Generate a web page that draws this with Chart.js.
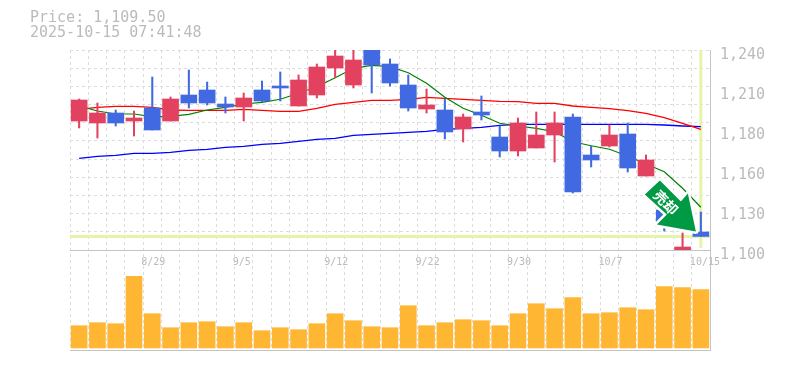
<!DOCTYPE html>
<html>
<head>
<meta charset="utf-8">
<script src="https://cdn.jsdelivr.net/npm/chart.js@4"></script>
<style>
  html, body { margin: 0; padding: 0; background: #fff; }
  canvas { display: block; }
</style>
</head>
<body>
<canvas id="priceChart" width="785" height="370"></canvas>
<script>
const dates = ["8/25","8/26","8/27","8/28","8/29","9/1","9/2","9/3","9/4","9/5","9/8","9/9","9/10","9/11","9/12","9/16","9/17","9/18","9/19","9/22","9/24","9/25","9/26","9/29","9/30","10/1","10/2","10/3","10/6","10/7","10/8","10/9","10/10","10/14","10/15"];
const dateTicks = ["8/29","9/5","9/12","9/22","9/30","10/7","10/15"];

const opens  = [1190.3,1188.9,1195.9,1190.3,1199.4,1190.3,1208.5,1212,1202.2,1200.1,1212,1214.8,1200.8,1208.5,1227.4,1215.5,1243,1230.2,1215.5,1198.7,1198,1184.7,1196.6,1179.1,1169.3,1171.4,1180.5,1193.1,1166.5,1172.8,1181.2,1151.8,1128,1100,1112.6];
const highs  = [1205.7,1202.9,1198,1197.3,1221.1,1207.1,1226,1217.6,1207.1,1209.9,1218.3,1224.6,1222.5,1230.2,1243,1242,1245,1233.7,1222.5,1212.7,1205.7,1195.2,1207.8,1186.8,1192.4,1196.6,1196.6,1195.2,1172.8,1187.5,1188.9,1166.5,1133,1111.9,1126.6];
const lows   = [1185.4,1178.4,1186.8,1179.8,1184,1190.3,1199.4,1201.5,1195.9,1190.3,1203.6,1204.3,1200.8,1206.4,1220.4,1213.4,1209.9,1214.8,1197.3,1195.9,1177.7,1175.6,1191,1165.1,1165.8,1171.4,1161.6,1139.9,1158.1,1172.1,1154.6,1151.8,1113.3,1100,1109.5];
const closes = [1205,1195.9,1188.9,1192.4,1184,1205.7,1202.9,1202.9,1200.1,1206.4,1204.3,1213.4,1219,1228.1,1235.8,1233,1229.5,1216.9,1199.4,1201.5,1182.6,1193.1,1194.5,1169.3,1188.9,1180.5,1188.9,1140.6,1163,1180.5,1157.4,1163,1119.6,1102.1,1109.5];

const maShort = [1200.8,1197.3,1195.2,1195.2,1193.3,1193.6,1195,1198,1199.9,1202.2,1203.4,1205.5,1209.7,1214.3,1220.6,1227.2,1229.3,1228.3,1224.1,1216.7,1206.9,1199.2,1194.3,1188.7,1186.8,1185.2,1182.8,1175.8,1173,1170.5,1165.8,1160.2,1154.8,1143.2,1129.9];
const maMid   = [1198.5,1199.9,1200.6,1200.6,1199.9,1198,1197.8,1197.8,1197.8,1198.5,1197.8,1197.1,1197.1,1199.2,1202,1203.4,1204.8,1204.8,1205.5,1206.9,1206.2,1205.5,1204.8,1204.1,1203.8,1202.7,1202.7,1200.8,1199.9,1198.9,1197.5,1195.7,1192.6,1188.7,1184.5];
const maLong  = [1164.2,1165.6,1166.3,1167.7,1167.7,1168.4,1169.8,1170.5,1171.9,1172.6,1174,1174.7,1176.1,1177.5,1178.2,1180.3,1181,1181.7,1182.4,1183.1,1184.5,1185.2,1185.9,1187.3,1188,1188,1188,1188,1188,1188,1188,1188,1187.5,1186.8,1186.3];

const volumes = [22.3,25.3,24.3,71.7,34.3,20.3,25.3,26.3,21.3,25.3,17.3,20.3,18.3,24.3,34.3,27.3,21.3,20.3,42.3,22.3,25.3,28.3,27.3,22.3,34.3,44.3,39.3,50.3,34.3,35.3,40.3,38.3,61.3,60.3,58.3];

const priceTicks = [1240,1212,1184,1156,1128,1100];
const priceTickLabels = ["1,240","1,210","1,180","1,160","1,130","1,100"];
const gridLineCount = 12;

const lastPrice = 1109.5;
const headerLines = ["Price: 1,109.50","2025-10-15 07:41:48"];
const signalLabel = "売却";

const upColor = "#e2425f";
const downColor = "#4169e1";
const textColor = "#bbbbbb";
const gridColor = "#dddddd";
const frameColor = "#c4c4c4";
const crossColor = "#e4f5aa";
const monoFont = "'DejaVu Sans Mono', monospace";

function candleColor(ctx) {
  const i = ctx.dataIndex;
  return closes[i] >= opens[i] ? upColor : downColor;
}

function maDataset(label, data, color, width) {
  return {
    type: "line",
    label: label,
    data: data,
    yAxisID: "price",
    borderColor: color,
    borderWidth: width,
    pointRadius: 0,
    tension: 0,
    order: 3
  };
}

// last price cross goes under the candles
const crossPlugin = {
  id: "cross",
  beforeDatasetsDraw(chart) {
    const { ctx, chartArea, scales } = chart;
    const x = scales.x.getPixelForValue(dates.length - 1);
    const y = scales.price.getPixelForValue(lastPrice);
    ctx.save();
    ctx.strokeStyle = crossColor;
    ctx.lineWidth = 3;
    ctx.beginPath();
    ctx.moveTo(chartArea.left, y);
    ctx.lineTo(chartArea.right, y);
    ctx.moveTo(x, scales.price.top);
    ctx.lineTo(x, scales.price.bottom - 2);
    ctx.stroke();
    ctx.restore();
  }
};

const overlayPlugin = {
  id: "overlay",
  afterDraw(chart) {
    const { ctx, scales } = chart;
    ctx.save();

    ctx.fillStyle = textColor;
    ctx.font = "15px " + monoFont;
    ctx.textBaseline = "middle";
    ctx.textAlign = "left";
    ctx.fillText(headerLines[0], 30, 18);
    ctx.fillText(headerLines[1], 30, 33);

    // signal arrow, tip sits just left of the last candle
    const tipX = scales.x.getPixelForValue(dates.length - 1) - 5;
    const tipY = scales.price.getPixelForValue(lastPrice) - 5;
    const arrow = [[-36,-51],[-15,-30],[-8,-38],[0,0],[-39,-7],[-29,-17],[-51,-37]];
    ctx.beginPath();
    arrow.forEach((p, i) => {
      if (i === 0) ctx.moveTo(tipX + p[0], tipY + p[1]);
      else ctx.lineTo(tipX + p[0], tipY + p[1]);
    });
    ctx.closePath();
    ctx.strokeStyle = "#ffffff";
    ctx.lineWidth = 5;
    ctx.lineJoin = "round";
    ctx.stroke();
    ctx.fillStyle = "#009944";
    ctx.fill();

    ctx.translate(tipX - 30, tipY - 29);
    ctx.rotate(Math.PI / 4);
    ctx.fillStyle = "#ffffff";
    ctx.font = "bold 14px 'Noto Sans CJK JP'";
    ctx.textAlign = "center";
    ctx.fillText(signalLabel, 0, 0);
    ctx.restore();
  }
};

new Chart(document.getElementById("priceChart"), {
  data: {
    labels: dates,
    datasets: [
      maDataset("MA short", maShort, "#008000", 1.2),
      maDataset("MA mid", maMid, "#ff0000", 1.3),
      maDataset("MA long", maLong, "#0000ff", 1.3),
      {
        type: "bar",
        label: "Wick",
        data: dates.map((d, i) => [lows[i], highs[i]]),
        yAxisID: "price",
        backgroundColor: candleColor,
        barThickness: 1.4,
        grouped: false,
        order: 2
      },
      {
        type: "bar",
        label: "Body",
        data: dates.map((d, i) => [Math.min(opens[i], closes[i]), Math.max(opens[i], closes[i])]),
        yAxisID: "price",
        backgroundColor: candleColor,
        barThickness: 16,
        grouped: false,
        order: 1
      },
      {
        type: "bar",
        label: "Volume",
        data: volumes,
        yAxisID: "volume",
        backgroundColor: "#ffb733",
        barThickness: 16,
        grouped: false,
        order: 4
      }
    ]
  },
  options: {
    responsive: false,
    animation: false,
    layout: { padding: { left: 70, top: 50, right: 0, bottom: 20 } },
    plugins: {
      legend: { display: false },
      tooltip: { enabled: false }
    },
    scales: {
      x: {
        type: "category",
        position: { price: 1100 },
        offset: true,
        grid: { color: gridColor, offset: true, drawTicks: false },
        border: { color: frameColor, dash: [3, 3] },
        ticks: {
          color: textColor,
          font: { family: monoFont, size: 10 },
          autoSkip: false,
          maxRotation: 0,
          align: "start",
          labelOffset: -11,
          padding: 6,
          callback(value) {
            const label = this.getLabelForValue(value);
            return dateTicks.includes(label) ? label : "";
          }
        }
      },
      price: {
        type: "linear",
        position: "right",
        stack: "panels",
        stackWeight: 2,
        min: 1100,
        max: 1240,
        afterFit(scale) { scale.width = 75; },
        afterBuildTicks(scale) {
          const ticks = priceTicks.map((v) => ({ value: v }));
          for (let i = 0; i < gridLineCount; i++) {
            ticks.push({ value: 1100 + (1240 - 1100) * i / (gridLineCount - 1), isGrid: true });
          }
          scale.ticks = ticks;
        },
        grid: {
          drawTicks: false,
          color: (ctx) => (ctx.tick && ctx.tick.isGrid ? gridColor : "rgba(0,0,0,0)")
        },
        border: { color: frameColor, dash: [3, 3] },
        ticks: {
          color: textColor,
          font: { family: monoFont, size: 15 },
          autoSkip: false,
          padding: 10,
          labelOffset: 5,
          callback(value, index, ticks) {
            if (ticks[index].isGrid) return "";
            return priceTickLabels[priceTicks.indexOf(value)];
          }
        }
      },
      volume: {
        type: "linear",
        position: "right",
        stack: "panels",
        stackWeight: 1,
        min: -2,
        max: 98,
        afterBuildTicks(scale) { scale.ticks = [{ value: scale.min }]; },
        grid: { color: frameColor, drawTicks: false },
        border: { color: frameColor },
        ticks: { display: false }
      }
    }
  },
  plugins: [crossPlugin, overlayPlugin]
});
</script>
</body>
</html>
